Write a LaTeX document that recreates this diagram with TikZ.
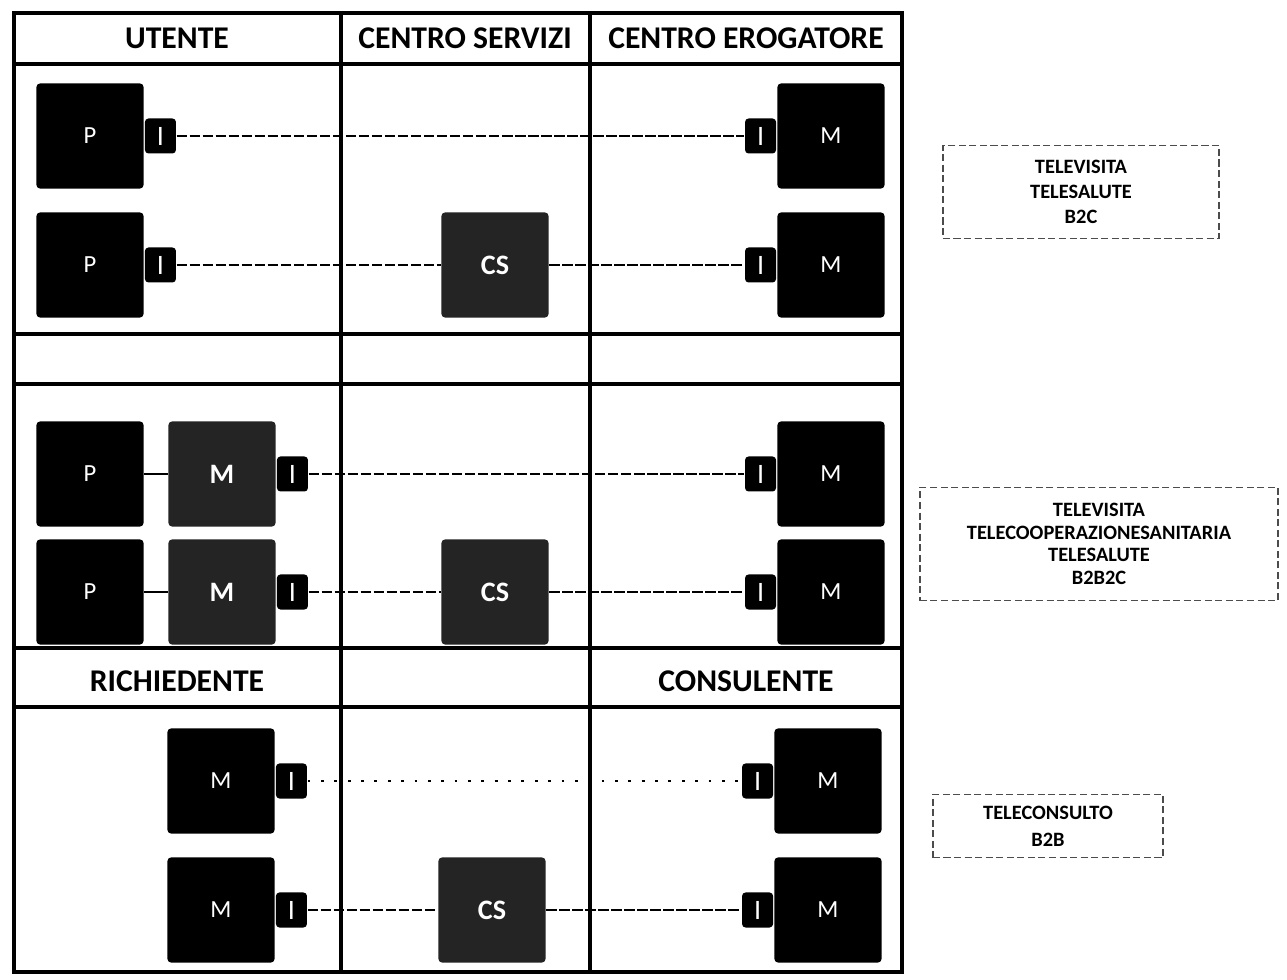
\documentclass[tikz,border=0pt]{standalone}
\usepackage{fontspec}
\setmainfont{Carlito}
\usetikzlibrary{positioning}

\begin{document}
\begin{tikzpicture}[x=0.01cm, y=-0.01cm,
                    tableline/.style={line width=0.9pt},
                    outer/.style={line width=1.2pt},
                    head/.style={font=\fontsize{9}{10}\selectfont\bfseries},
                    blk/.style={fill=black, rounded corners=1pt, minimum width=1.07cm,
                                minimum height=1.05cm, inner sep=0pt, text=white,
                                font=\fontsize{7}{8}\selectfont},
                    grain/.style={blk, fill=black!86, font=\fontsize{8}{9}\selectfont\bfseries},
                    plug/.style={fill=black, rounded corners=1pt, minimum width=0.31cm,
                                 minimum height=0.35cm, inner sep=0pt, text=white,
                                 font=\fontsize{8}{9}\selectfont},
                    link/.style={line width=0.4pt, dash pattern=on 3pt off 0.7pt},
                    faint/.style={line width=0.4pt, dash pattern=on 0.8pt off 3pt},
                    legbox/.style={draw=black!70, line width=0.4pt, dash pattern=on 2pt off 1pt,
                                   inner sep=0pt, align=center}]
\useasboundingbox (0,0) rectangle (1287,980);
\draw[outer] (14,13) rectangle (902,972);
\foreach \y in {64,334,384,648,707}
  \draw[tableline] (14,\y) -- (902,\y);
\draw[tableline] (341,13) -- (341,972);
\draw[tableline] (590,13) -- (590,972);

\node[head] (hut) at (177,38) {UTENTE};
\node[head] (hcs) at (465,38) {CENTRO SERVIZI};
\node[head] (hce) at (746,38) {CENTRO EROGATORE};
\node[head] (hri) at (177,681) {RICHIEDENTE};
\node[head] (hco) at (746,681) {CONSULENTE};

\node[blk] (p1) at (90,136) {P};
\node[plug, right=0pt of p1] (i1) {I};
\node[blk] (m1) at (831,136) {M};
\node[plug, left=0pt of m1] (j1) {I};
\draw[link] (i1) -- (j1);

\node[blk] (p2) at (90,265) {P};
\node[plug, right=0pt of p2] (i2) {I};
\node[grain] (cs1) at (495,265) {CS};
\node[blk] (m2) at (831,265) {M};
\node[plug, left=0pt of m2] (j2) {I};
\draw[link] (i2) -- (cs1);
\draw[link] (cs1) -- (j2);

\node[blk] (p3) at (90,474) {P};
\node[grain] (q1) at (222,474) {M};
\node[plug, right=0pt of q1] (i3) {I};
\node[blk] (m3) at (831,474) {M};
\node[plug, left=0pt of m3] (j3) {I};
\draw[line width=0.6pt] (p3) -- (q1);
\draw[link] (i3) -- (j3);

\node[blk] (p4) at (90,592) {P};
\node[grain] (q2) at (222,592) {M};
\node[plug, right=0pt of q2] (i4) {I};
\node[grain] (cs2) at (495,592) {CS};
\node[blk] (m4) at (831,592) {M};
\node[plug, left=0pt of m4] (j4) {I};
\draw[line width=0.6pt] (p4) -- (q2);
\draw[link] (i4) -- (cs2);
\draw[link] (cs2) -- (j4);

\node[blk] (r1) at (221,781) {M};
\node[plug, right=0pt of r1] (i5) {I};
\node[blk] (m5) at (828,781) {M};
\node[plug, left=0pt of m5] (j5) {I};
\draw[faint] (i5) -- (j5);

\node[blk] (r2) at (221,910) {M};
\node[plug, right=0pt of r2] (i6) {I};
\node[grain] (cs3) at (492,910) {CS};
\node[blk] (m6) at (828,910) {M};
\node[plug, left=0pt of m6] (j6) {I};
\draw[link] (i6) -- (cs3);
\draw[link] (cs3) -- (j6);

\node[legbox, minimum width=2.76cm, minimum height=0.93cm,
      font=\fontsize{5.8}{7.1}\selectfont\bfseries] (b2c) at (1081,192)
      {TELEVISITA\\TELESALUTE\\B2C};
\node[legbox, minimum width=3.58cm, minimum height=1.13cm,
      font=\fontsize{5.8}{6.4}\selectfont\bfseries] (b2b2c) at (1099,544)
      {TELEVISITA\\TELECOOPERAZIONESANITARIA\\TELESALUTE\\B2B2C};
\node[legbox, minimum width=2.30cm, minimum height=0.63cm,
      font=\fontsize{5.8}{7.6}\selectfont\bfseries] (b2b) at (1048,826)
      {TELECONSULTO\\B2B};
\end{tikzpicture}
\end{document}
